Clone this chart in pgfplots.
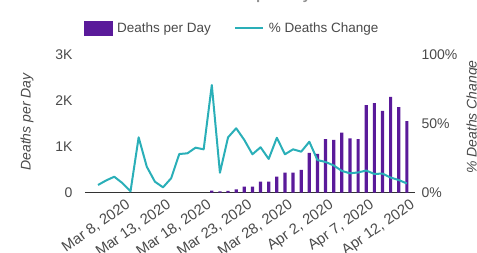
\documentclass[border=0pt]{standalone}
\usepackage{pgfplots}
\pgfplotsset{compat=1.18}
\usepackage{fontspec}
\setmainfont{Liberation Sans}
\definecolor{barpurple}{HTML}{5A1A9A}
\definecolor{lineteal}{HTML}{2AAFB8}
\definecolor{txt}{HTML}{4A4A4A}
\definecolor{axisc}{HTML}{333333}
\begin{document}
\begin{tikzpicture}[x=1pt,y=1pt]
\useasboundingbox (-85,-59.3) rectangle (392,192.7);
\pgfplotsset{
  common/.style={
    scale only axis, width=330pt, height=137.7pt,
    xmin=-1.6, xmax=39,
    major tick length=0pt,
    tick label style={font=\fontsize{14}{16}\selectfont, text=txt},
    /pgf/number format/assume math mode=true,
  }
}
\begin{axis}[
  common,
  ymin=0, ymax=3000,
  axis x line=bottom, axis y line=left,
  axis line style={-},
  x axis line style={draw=axisc, line width=1pt},
  y axis line style={draw=none},
  ytick={0,1000,2000,3000},
  yticklabels={0,1K,2K,3K},
  yticklabel style={xshift=-9pt},
  xtick={3,8,13,18,23,28,33,38},
  xticklabels={{Mar 8, 2020},{Mar 13, 2020},{Mar 18, 2020},{Mar 23, 2020},{Mar 28, 2020},{Apr 2, 2020},{Apr 7, 2020},{Apr 12, 2020}},
  xticklabel style={font=\fontsize{14.8}{16}\selectfont, rotate=35, anchor=north east, inner sep=0pt, yshift=-6pt, xshift=-1pt},
]
\addplot[ybar, bar width=3.2pt, fill=barpurple, draw=none] coordinates {
(14,45)(15,30)(16,40)(17,75)(18,130)(19,130)(20,240)(21,240)(22,350)(23,435)
(24,435)(25,495)(26,870)(27,845)(28,1165)(29,1150)(30,1310)(31,1185)(32,1165)
(33,1910)(34,1950)(35,1780)(36,2085)(37,1865)(38,1560)};
\end{axis}
\begin{axis}[
  common,
  ymin=0, ymax=100,
  axis x line=none, axis y line=right,
  y axis line style={draw=none},
  ytick={0,50,100},
  yticklabels={0\%,50\%,100\%},
  yticklabel style={xshift=3pt},
  xtick=\empty,
  legend columns=2,
  legend style={at={(axis description cs:0.45,1.195)}, anchor=center, draw=none, fill=none,
    font=\fontsize{13.5}{15}\selectfont, text=txt,
    nodes={inner xsep=5pt},
    /tikz/every even column/.append style={column sep=18pt}},
]
\addlegendimage{legend image code/.code={\fill[barpurple] (0pt,-7pt) rectangle (28pt,7pt);}}
\addlegendentry{Deaths per Day}
\addplot[color=lineteal, line width=2pt, line join=round,
  legend image code/.code={\draw[lineteal, line width=2pt] (0pt,0pt) -- (28pt,0pt);}] coordinates {
(0,5.6)(1,8.9)(2,11.6)(3,7.0)(4,1.0)(5,40.2)(6,18.9)(7,8.0)(8,3.9)(9,10.5)
(10,28.1)(11,28.6)(12,32.7)(13,31.5)(14,78.2)(15,14.5)(16,40.2)(17,46.8)(18,38.3)
(19,27.9)(20,33.0)(21,24.5)(22,39.9)(23,27.9)(24,31.5)(25,29.8)(26,37.0)(27,23.7)
(28,22.3)(29,19.8)(30,15.8)(31,14.1)(32,14.7)(33,16.1)(34,13.6)(35,13.9)(36,11.0)
(37,9.2)(38,6.7)};
\addlegendentry{\% Deaths Change}
\end{axis}
\node[rotate=90, font=\fontsize{14}{16}\selectfont\itshape, text=txt] at (-58,70.7) {Deaths per Day};
\node[rotate=90, font=\fontsize{14}{16}\selectfont\itshape, text=txt] at (388,75.7) {\% Deaths Change};
\node[anchor=base, font=\fontsize{15}{17}\selectfont\bfseries, text=txt!60] at (159,193.2) {US Deaths per Day};
\end{tikzpicture}
\end{document}
